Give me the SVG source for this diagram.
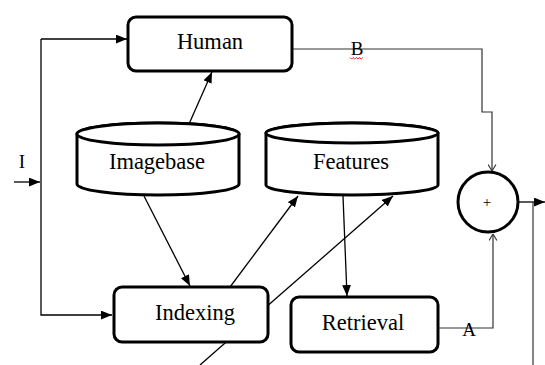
<svg xmlns="http://www.w3.org/2000/svg" width="545" height="365" viewBox="0 0 545 365">
<defs>
<style>
.box{fill:#fff;stroke:#000;stroke-width:3}
.cyl{fill:#fff;stroke:#000;stroke-width:3}
.ln{fill:none;stroke:#000;stroke-width:1.3}
.ln2{fill:none;stroke:#333;stroke-width:1.2}
.lbl{font-family:"Liberation Serif","Times New Roman",serif;font-size:22.5px;fill:#000;text-anchor:middle}
.sm{font-family:"Liberation Serif","Times New Roman",serif;font-size:19px;fill:#000;text-anchor:middle}
</style>
<marker id="fa" viewBox="0 0 10 8" refX="10" refY="4" markerWidth="11" markerHeight="9" markerUnits="userSpaceOnUse" orient="auto">
<path d="M0,0 L10,4 L0,8 Z" fill="#000"/>
</marker>
<marker id="oa" viewBox="0 0 8 10" refX="7.5" refY="5" markerWidth="7" markerHeight="9" markerUnits="userSpaceOnUse" orient="auto">
<path d="M0,0.5 L7.5,5 L0,9.5" fill="none" stroke="#333" stroke-width="1.3"/>
</marker>
</defs>
<rect width="545" height="365" fill="#fff"/>
<g id="connectors">
<path class="ln" d="M41,39 L127,39" marker-end="url(#fa)"/>
<path class="ln" d="M41,39 L41,315 L112,315" marker-end="url(#fa)"/>
<path class="ln" d="M14,182 L40,182" marker-end="url(#fa)"/>
<path class="ln" d="M189,124 L212,72" marker-end="url(#fa)"/>
<path class="ln" d="M144,196 L190,286" marker-end="url(#fa)"/>
<path class="ln" d="M230,287 L298,196" marker-end="url(#fa)"/>
<path class="ln" d="M200,365 L393,196" marker-end="url(#fa)"/>
<path class="ln" d="M343,196 L347,296" marker-end="url(#fa)"/>
<path class="ln2" d="M292,49 L482,49 L482,112 L492,112 L492,171" marker-end="url(#oa)"/>
<path class="ln2" d="M438,328 L493,328 L493,234" marker-end="url(#oa)"/>
<path class="ln" d="M519,202 L545,202" marker-end="url(#fa)"/>
<path class="ln2" d="M533,202 L533,365"/>
</g>
<g id="human">
<rect class="box" x="128" y="17" width="164" height="54" rx="8"/>
<text class="lbl" x="210" y="49">Human</text>
</g>
<g id="imagebase">
<path class="cyl" d="M77,134 A81,11 0 0 1 239,134 L239,184 A81,11 0 0 1 77,184 Z"/>
<ellipse class="cyl" cx="158" cy="134" rx="81" ry="11"/>
<text class="lbl" x="157" y="169">Imagebase</text>
</g>
<g id="features">
<path class="cyl" d="M266,133 A86,10 0 0 1 438,133 L438,185 A86,10 0 0 1 266,185 Z"/>
<ellipse class="cyl" cx="352" cy="133" rx="86" ry="10"/>
<text class="lbl" x="351" y="169">Features</text>
</g>
<g id="indexing">
<rect class="box" x="114" y="287" width="154" height="55" rx="8"/>
<text class="lbl" x="195" y="320">Indexing</text>
</g>
<g id="retrieval">
<rect class="box" x="291" y="297" width="147" height="55" rx="8"/>
<text class="lbl" x="363" y="330">Retrieval</text>
</g>
<g id="sum">
<circle cx="488" cy="202" r="30" fill="#fff" stroke="#000" stroke-width="3"/>
<text x="487" y="207" font-family="Liberation Serif, serif" font-size="15" text-anchor="middle" fill="#000">+</text>
</g>
<g id="labels">
<text class="sm" x="22" y="168">I</text>
<text class="sm" x="357" y="55">B</text>
<path d="M350,57.5 l1.6,1.6 l1.6,-1.6 l1.6,1.6 l1.6,-1.6 l1.6,1.6 l1.6,-1.6 l1.6,1.6 l1.6,-1.6" fill="none" stroke="#e00" stroke-width="0.9"/>
<text class="sm" x="469" y="336">A</text>
</g>
</svg>
